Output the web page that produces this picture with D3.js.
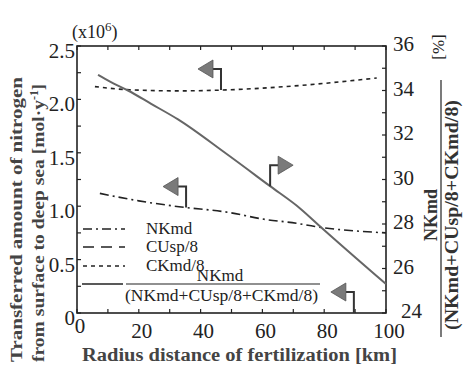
<!DOCTYPE html>
<html><head><meta charset="utf-8">
<script src="https://cdn.jsdelivr.net/npm/d3@7"></script>
<style>
html,body{margin:0;padding:0;background:#fff;}
svg{display:block;}
</style></head>
<body>
<svg id="c" width="468" height="371"></svg>
<script>
// ---- data ----
const xTicks = [0, 20, 40, 60, 80, 100];
const leftTicks = [0, 0.5, 1.0, 1.5, 2.0, 2.5];
const leftTickLabels = ["0", "0.5", "1.0", "1.5", "2.0", "2.5"];
const rightTicks = [24, 26, 28, 30, 32, 34, 36];

// NKmd (left axis, x10^6 mol/y)
const nkX = [7.4, 20, 33, 49.5, 60, 71, 77, 100];
const nkY = [1.12, 1.05, 0.995, 0.94, 0.88, 0.84, 0.81, 0.75];
// CKmd/8 (left axis)
const ckX = [5.8, 17, 33, 49.5, 72, 97];
const ckY = [2.12, 2.09, 2.08, 2.09, 2.13, 2.20];
// NKmd/(NKmd+CUsp/8+CKmd/8) (right axis, %)
const ratioX = [6.8, 10.7, 16.5, 24, 32.7, 47.9, 62.5, 72.2, 78.6, 100];
const ratioY = [34.7, 34.4, 34.0, 33.4, 32.7, 31.2, 29.7, 28.7, 27.9, 25.3];

const legendLabels = ["NKmd", "CUsp/8", "CKmd/8"];
// annotation arrows: x position, series it sits on, direction
const arrowX = [46.6, 35.3, 62.5, 89.6];
const arrowOn = ["ck", "nk", "ratio", "axis"];
const arrowDir = ["left", "left", "right", "left"];

// ---- layout ----
const FONT = '"Liberation Serif", "Times New Roman", serif';
const svg = d3.select("#c").style("font-family", FONT);
const L = 77, R = 386, T = 46, B = 313;
const x = d3.scaleLinear().domain([0, 100]).range([L, R]);
const yL = d3.scaleLinear().domain([0, 2.5]).range([B, T]);
const yR = d3.scaleLinear().domain([24, 36]).range([B, T]);
const ink = "#222";
function txt(sel) { return sel.append("text").style("font-family", FONT).attr("fill", ink); }

// frame
svg.append("rect").attr("x", L).attr("y", T).attr("width", R - L).attr("height", B - T)
  .attr("fill", "none").attr("stroke", ink).attr("stroke-width", 1.6);

// ticks (inward)
const tg = svg.append("g").attr("stroke", ink).attr("stroke-width", 1.2);
d3.range(0, 101, 10).forEach(v => {
  tg.append("line").attr("x1", x(v)).attr("x2", x(v)).attr("y1", B).attr("y2", B - 4);
  tg.append("line").attr("x1", x(v)).attr("x2", x(v)).attr("y1", T).attr("y2", T + 4);
});
d3.range(0, 2.51, 0.25).forEach(v => {
  tg.append("line").attr("x1", L).attr("x2", L + 4).attr("y1", yL(v)).attr("y2", yL(v));
});
d3.range(24, 36.1, 1).forEach(v => {
  tg.append("line").attr("x1", R).attr("x2", R - 4).attr("y1", yR(v)).attr("y2", yR(v));
});

// tick labels
xTicks.forEach(v => {
  txt(svg).attr("x", x(v) + 3).attr("y", v === 0 ? 333 : 338)
    .attr("text-anchor", "middle").attr("font-size", 21).text(v);
});
leftTicks.forEach((v, i) => {
  txt(svg).attr("x", 75).attr("y", yL(v) + 12)
    .attr("text-anchor", "end").attr("font-size", 21).text(leftTickLabels[i]);
});
rightTicks.forEach(v => {
  txt(svg).attr("x", v === 24 ? 401 : 393).attr("y", yR(v) + 5)
    .attr("text-anchor", "start").attr("font-size", 21).text(v);
});

// (x10^6)
const mult = txt(svg).attr("x", 72).attr("y", 38).attr("font-size", 18);
mult.append("tspan").text("(x10");
mult.append("tspan").attr("dy", -7).attr("font-size", 13).text("6");
mult.append("tspan").attr("dy", 7).text(")");

// axis titles
txt(svg).attr("x", 82).attr("y", 361).attr("font-size", 18).attr("font-weight", "bold")
  .attr("fill", "#444").attr("textLength", 315).attr("lengthAdjust", "spacingAndGlyphs")
  .text("Radius distance of fertilization  [km]");

txt(svg).attr("transform", "translate(22,362) rotate(-90)").attr("font-size", 17)
  .attr("font-weight", "bold").attr("fill", "#444").attr("textLength", 285).attr("lengthAdjust", "spacingAndGlyphs")
  .text("Transferred amount of nitrogen");
const l2 = txt(svg).attr("transform", "translate(44,362) rotate(-90)").attr("font-size", 17)
  .attr("font-weight", "bold").attr("fill", "#444");
l2.append("tspan").attr("textLength", 262).attr("lengthAdjust", "spacingAndGlyphs").text("from surface to deep sea [mol·y");
l2.append("tspan").attr("dy", -6).attr("font-size", 12).text("-1");
l2.append("tspan").attr("dy", 6).text("]");

// right title
txt(svg).attr("transform", "translate(444,47) rotate(-90)").attr("text-anchor", "middle")
  .attr("font-size", 17).text("[%]");
txt(svg).attr("transform", "translate(437,215) rotate(-90)").attr("text-anchor", "middle")
  .attr("font-size", 18).attr("font-weight", "bold").attr("fill", "#333").text("NKmd");
svg.append("line").attr("x1", 441).attr("x2", 441).attr("y1", 80).attr("y2", 337)
  .attr("stroke", "#333").attr("stroke-width", 1.3);
txt(svg).attr("transform", "translate(458,215) rotate(-90)").attr("text-anchor", "middle")
  .attr("font-size", 18).attr("font-weight", "bold").attr("fill", "#333")
  .attr("textLength", 230).attr("lengthAdjust", "spacingAndGlyphs").text("(NKmd+CUsp/8+CKmd/8)");

// curves
const lineL = d3.line().curve(d3.curveMonotoneX);
const ckPts = ckX.map((v, i) => [x(v), yL(ckY[i])]);
const nkPts = nkX.map((v, i) => [x(v), yL(nkY[i])]);
const rPts = ratioX.map((v, i) => [x(v), yR(ratioY[i])]);
svg.append("path").attr("d", lineL(ckPts)).attr("fill", "none").attr("stroke", ink)
  .attr("stroke-width", 1.6).attr("stroke-dasharray", "4,4");
svg.append("path").attr("d", lineL(nkPts)).attr("fill", "none").attr("stroke", ink)
  .attr("stroke-width", 1.6).attr("stroke-dasharray", "9,4,2,4");
svg.append("path").attr("d", lineL(rPts)).attr("fill", "none").attr("stroke", "#666")
  .attr("stroke-width", 2);

// arrows
function valAt(xs, ys, v) {
  return d3.scaleLinear().domain(xs).range(ys)(v);
}
arrowX.forEach((v, i) => {
  const px = x(v);
  let base;
  if (arrowOn[i] === "ck") base = yL(valAt(ckX, ckY, v));
  else if (arrowOn[i] === "nk") base = yL(valAt(nkX, nkY, v));
  else if (arrowOn[i] === "ratio") base = yR(valAt(ratioX, ratioY, v));
  else base = B;
  const top = base - 21;
  const s = arrowDir[i] === "left" ? -1 : 1;
  const hx = px + s * 8;
  svg.append("path").attr("d", `M${px},${base}V${top}H${hx}`).attr("fill", "none")
    .attr("stroke", "#333").attr("stroke-width", 2);
  svg.append("path").attr("d", `M${hx},${top - 9}L${hx + s * 15},${top}L${hx},${top + 9}Z`)
    .attr("fill", "#7a7a7a").attr("stroke", "#555").attr("stroke-width", 0.8);
});

// legend
const legY = [229, 247, 266];
const legDash = ["9,4,2,4", "11,7", "4,4"];
legendLabels.forEach((t, i) => {
  svg.append("line").attr("x1", 83).attr("x2", 125).attr("y1", legY[i]).attr("y2", legY[i])
    .attr("stroke", ink).attr("stroke-width", 1.6).attr("stroke-dasharray", legDash[i]);
  txt(svg).attr("x", 146).attr("y", legY[i] + 5).attr("font-size", 17).text(t);
});
svg.append("line").attr("x1", 82).attr("x2", 123).attr("y1", 284).attr("y2", 284)
  .attr("stroke", ink).attr("stroke-width", 1.6);
svg.append("line").attr("x1", 126).attr("x2", 320).attr("y1", 284).attr("y2", 284)
  .attr("stroke", ink).attr("stroke-width", 1.2);
txt(svg).attr("x", 220).attr("y", 281).attr("text-anchor", "middle").attr("font-size", 17).text("NKmd");
txt(svg).attr("x", 125).attr("y", 301).attr("font-size", 17)
  .attr("textLength", 193).attr("lengthAdjust", "spacingAndGlyphs").text("(NKmd+CUsp/8+CKmd/8)");
</script>
</body></html>
